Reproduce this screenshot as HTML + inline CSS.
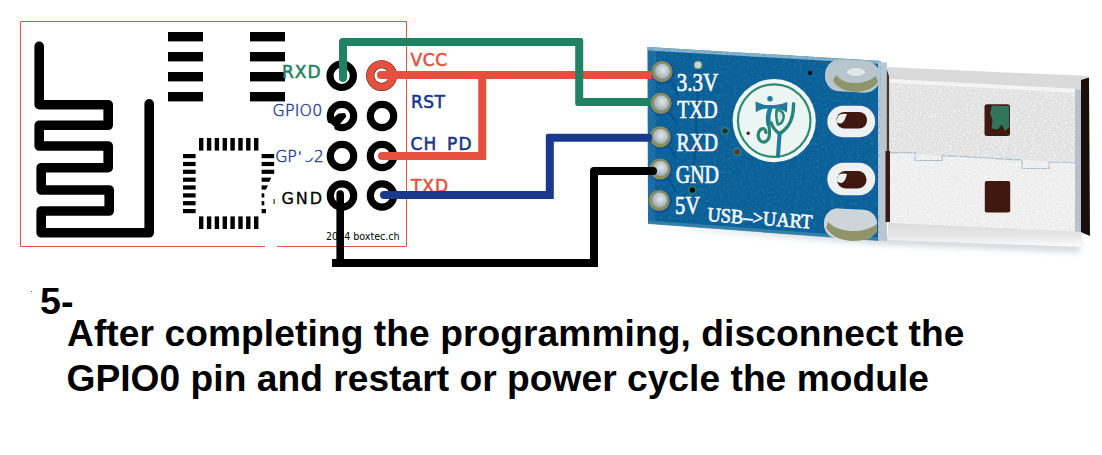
<!DOCTYPE html>
<html lang="en">
<head>
<meta charset="utf-8">
<title>ESP8266 - USB UART wiring, step 5</title>
<style>
html,body{margin:0;padding:0;background:#fff;}
body{width:1102px;height:455px;overflow:hidden;position:relative;font-family:"Liberation Sans",sans-serif;}
svg{position:absolute;left:0;top:0;display:block;}
.lbl{font-family:"DejaVu Sans","Liberation Sans",sans-serif;}
.silk{font-family:"Liberation Serif",serif;fill:#f4f8fa;stroke:#f4f8fa;stroke-width:0.7px;}
.cap{font-family:"Liberation Sans",sans-serif;font-weight:bold;fill:#000;}
</style>
</head>
<body>
<svg width="1102" height="455" viewBox="0 0 1102 455">
<defs>
  <linearGradient id="usbTop" x1="0" y1="0" x2="0" y2="1">
    <stop offset="0" stop-color="#dcdcdc"/><stop offset="1" stop-color="#d6d6d6"/>
  </linearGradient>
  <linearGradient id="usbBot" x1="0" y1="0" x2="0.04" y2="1">
    <stop offset="0" stop-color="#dcdcdc"/><stop offset="0.55" stop-color="#e6e6e6"/><stop offset="1" stop-color="#fbfbfb"/>
  </linearGradient>
  <radialGradient id="padG" cx="0.55" cy="0.42" r="0.6">
    <stop offset="0" stop-color="#e4e7e7"/><stop offset="0.45" stop-color="#c4cdd2"/><stop offset="0.8" stop-color="#a6b4c0"/><stop offset="1" stop-color="#93a08e"/>
  </radialGradient>
  <filter id="grainW" x="0" y="0" width="100%" height="100%" color-interpolation-filters="sRGB">
    <feTurbulence type="fractalNoise" baseFrequency="0.55" numOctaves="2" seed="7"/>
    <feColorMatrix type="matrix" values="0 0 0 0 1  0 0 0 0 1  0 0 0 0 1  3.2 0 0 0 -1.55"/>
  </filter>
  <filter id="grainB" x="0" y="0" width="100%" height="100%" color-interpolation-filters="sRGB">
    <feTurbulence type="fractalNoise" baseFrequency="0.35" numOctaves="2" seed="11"/>
    <feColorMatrix type="matrix" values="0 0 0 0 0.16  0 0 0 0 0.52  0 0 0 0 0.72  2.6 0 0 0 -1.3"/>
  </filter>
  <clipPath id="plugClip"><path d="M890,84 L1075,93 L1075,231.5 L890,223 Z"/></clipPath>
  <clipPath id="pcbClip"><path d="M647.5,47 L881,61 L879,240.5 L648,223.5 Z"/></clipPath>
  <filter id="soft" x="-5%" y="-5%" width="110%" height="110%"><feGaussianBlur stdDeviation="0.6"/></filter>
  <filter id="blur3" x="-10%" y="-50%" width="120%" height="200%"><feGaussianBlur stdDeviation="3"/></filter>
</defs>
<rect x="0" y="0" width="1102" height="455" fill="#ffffff"/>

<!-- ESP-01 module outline -->
<g id="esp01">
  <path d="M265,246.5 H20.5 V21.5 H406.5 V246.5 H277" fill="none" stroke="#e5503f" stroke-width="1"/>
  <!-- pcb antenna -->
  <path d="M39.2,46.4 V104.7 H108.2 V125.3 H39.2 V146 H108.2 V167.7 H41.2 V190 H109.2 V211 H41.2 V232.8 H149.2 V103.8" fill="none" stroke="#000" stroke-width="9.6" stroke-linecap="round" stroke-linejoin="round"/>
  <!-- smd pads -->
  <g fill="#000">
    <rect x="168" y="32" width="35" height="9.4"/><rect x="168" y="52" width="35" height="9.4"/><rect x="168" y="72" width="35" height="9.4"/><rect x="168" y="92" width="35" height="9.4"/>
    <rect x="250" y="32" width="35" height="9.4"/><rect x="250" y="52" width="35" height="9.4"/><rect x="250" y="72" width="35" height="9.4"/><rect x="250" y="92" width="35" height="9.4"/>
  </g>
  <!-- qfn chip pads -->
  <g fill="#000" id="qfn">
    <rect x="199" y="138" width="4.4" height="12.6"/><rect x="206.9" y="138" width="4.4" height="12.6"/><rect x="214.7" y="138" width="4.4" height="12.6"/><rect x="222.6" y="138" width="4.4" height="12.6"/><rect x="230.4" y="138" width="4.4" height="12.6"/><rect x="238.3" y="138" width="4.4" height="12.6"/><rect x="246.1" y="138" width="4.4" height="12.6"/><rect x="254" y="138" width="4.4" height="12.6"/>
    <rect x="199" y="216.4" width="4.4" height="12.6"/><rect x="206.9" y="216.4" width="4.4" height="12.6"/><rect x="214.7" y="216.4" width="4.4" height="12.6"/><rect x="222.6" y="216.4" width="4.4" height="12.6"/><rect x="230.4" y="216.4" width="4.4" height="12.6"/><rect x="238.3" y="216.4" width="4.4" height="12.6"/><rect x="246.1" y="216.4" width="4.4" height="12.6"/><rect x="254" y="216.4" width="4.4" height="12.6"/>
    <rect x="183" y="154" width="12.6" height="4.2"/><rect x="183" y="161.9" width="12.6" height="4.2"/><rect x="183" y="169.7" width="12.6" height="4.2"/><rect x="183" y="177.6" width="12.6" height="4.2"/><rect x="183" y="185.4" width="12.6" height="4.2"/><rect x="183" y="193.3" width="12.6" height="4.2"/><rect x="183" y="201.1" width="12.6" height="4.2"/><rect x="183" y="209" width="12.6" height="4.2"/>
    <rect x="261.6" y="154" width="12.6" height="4.2"/><rect x="261.6" y="161.9" width="12.6" height="4.2"/><rect x="261.6" y="169.7" width="12.6" height="4.2"/><rect x="261.6" y="177.6" width="12.6" height="4.2"/><rect x="261.6" y="185.4" width="12.6" height="4.2"/><rect x="261.6" y="193.3" width="12.6" height="4.2"/><rect x="261.6" y="201.1" width="12.6" height="4.2"/><rect x="261.6" y="209" width="12.6" height="4.2"/>
  </g>
  <!-- labels left -->
  <text class="lbl" x="282" y="77.9" font-size="17" fill="#1f8363" stroke="#1f8363" stroke-width="0.55" textLength="38.6" lengthAdjust="spacing">RXD</text>
  <text class="lbl" x="272.6" y="116" font-size="15.8" fill="#1f3f90" stroke="#1f3f90" stroke-width="0.45" textLength="49.6" lengthAdjust="spacing" style="font-family:'DejaVu Sans Light','DejaVu Sans',sans-serif">GPIO0</text>
  <text class="lbl" x="275.2" y="162" font-size="15.8" fill="#1f3f90" stroke="#1f3f90" stroke-width="0.45" textLength="48.6" lengthAdjust="spacing" style="font-family:'DejaVu Sans Light','DejaVu Sans',sans-serif">GPIO2</text>
  <text class="lbl" x="281.5" y="203.5" font-size="16" fill="#000" stroke="#000" stroke-width="0.3" textLength="40.5" lengthAdjust="spacing">GND</text>
  <text class="lbl" x="326" y="240" font-size="9.6" fill="#000" textLength="73.6" lengthAdjust="spacing">2014 boxtec.ch</text>
  <!-- white erasures from the original bitmap edit -->
  <g fill="#fff">
    <path d="M272,176 L265.8,190 L264.3,192 L264.3,208.6 L266,208.6 L266,215 L277,215 L277,176 Z"/>
    <rect x="297.6" y="146" width="8" height="18"/>
    <path d="M305,146 H315 V156 L311,158.5 L305,157 Z"/>
  </g>
  <rect x="299.2" y="151.2" width="1.4" height="3.6" fill="#1f3f90"/>
  <rect x="273.6" y="199" width="1" height="5" fill="#000"/>
  <!-- header pins -->
  <g fill="none" stroke="#000" stroke-width="7.2">
    <circle cx="341.7" cy="75.8" r="11.7"/>
    <circle cx="342" cy="116" r="11.7"/><circle cx="382" cy="116" r="11.7"/>
    <circle cx="342" cy="156" r="11.7"/><circle cx="382" cy="156" r="11.7"/>
    <circle cx="342" cy="195.5" r="11.7"/><circle cx="382" cy="195.5" r="11.7"/>
  </g>
  <circle cx="381.6" cy="75.6" r="11.4" fill="none" stroke="#2a1a18" stroke-width="8.1"/>
  <circle cx="381.6" cy="75.6" r="11.4" fill="none" stroke="#e5503f" stroke-width="7.2"/>
  <path d="M338.6,113.5 L344.8,113.0 Q346.4,114.6 346.0,116.8 L336,129 L328,121.4 Z" fill="#000"/>
  <path d="M326.2,122.2 L330.8,123.6 L334.1,126.5 L335,130.6 L329.9,132 L325,126.2 Z" fill="#fff"/>
  <!-- labels right -->
  <text class="lbl" x="410.5" y="66" font-size="17" fill="#e5503f" stroke="#e5503f" stroke-width="0.55" textLength="36.5" lengthAdjust="spacing">VCC</text>
  <text class="lbl" x="411" y="108.4" font-size="17" fill="#17378b" stroke="#17378b" stroke-width="0.55" textLength="34" lengthAdjust="spacing">RST</text>
  <text class="lbl" x="410.5" y="150.4" font-size="17" fill="#17378b" stroke="#17378b" stroke-width="0.55" textLength="61" lengthAdjust="spacing">CH_PD</text>
  <text class="lbl" x="411" y="191.8" font-size="17" fill="#e5503f" stroke="#e5503f" stroke-width="0.55" textLength="37" lengthAdjust="spacing">TXD</text>
</g>

<!-- USB to UART adapter -->
<g id="usbuart">
  <!-- soft shadow under board and plug -->
  <path d="M650,226 L878,244 L1080,252 L1080,244 L878,236 Z" fill="#cdd5da" filter="url(#blur3)"/>
  <!-- pcb -->
  <path d="M647.5,47 L881,61 L879,240.5 L648,223.5 Z" fill="#0b6098"/>
  <path d="M647.5,47 L881,61 L881,64 L647.5,50.5 Z" fill="#a9c6d6" opacity="0.8"/>
  <path d="M648,220.5 L879,237.5 L879,241 L648,224 Z" fill="#3f86ad" opacity="0.8"/>
  <path d="M878,62 L887,62.6 L887,241 L878,240.5 Z" fill="#b9c7d3"/>
  <path d="M886.8,70 L889.2,70.3 L889.2,151 L886.8,151 Z" fill="#4a3a24"/>
  <path d="M885.5,151 L890,151 L890,222 L885.5,222 Z" fill="#3a1a14"/>
  <rect x="647" y="46" width="236" height="196" filter="url(#grainB)" clip-path="url(#pcbClip)" opacity="0.55"/>
  <!-- copper traces -->
  <g fill="none" stroke="#0a4f8a" stroke-width="2.2" opacity="0.85">
    <path d="M698,69 L697,120 L692.4,186"/>
    <path d="M671,80 L678,96"/><path d="M670,113 L677,124"/><path d="M669,146 L676,158"/><path d="M668,178 L676,192"/>
  </g>
  <path d="M648,50 L656,51 L655,222 L648,221.5 Z" fill="#2a7fb4" opacity="0.45"/>
  <!-- header pads -->
  <g>
    <circle cx="662.8" cy="72.39999999999999" r="11.6" fill="#114a93" opacity="0.8"/><circle cx="662" cy="71.6" r="10.6" fill="#868d62"/><circle cx="662.3" cy="71.3" r="7.6" fill="url(#padG)"/>
    <circle cx="661.8" cy="104.1" r="11.6" fill="#114a93" opacity="0.8"/><circle cx="661" cy="103.3" r="10.6" fill="#868d62"/><circle cx="661.3" cy="103.0" r="7.6" fill="url(#padG)"/>
    <circle cx="661.0" cy="137.60000000000002" r="11.6" fill="#114a93" opacity="0.8"/><circle cx="660.2" cy="136.8" r="10.6" fill="#868d62"/><circle cx="660.5" cy="136.5" r="7.6" fill="url(#padG)"/>
    <circle cx="660.8" cy="169.8" r="11.6" fill="#114a93" opacity="0.8"/><circle cx="660" cy="169" r="10.6" fill="#868d62"/><circle cx="660.3" cy="168.7" r="7.6" fill="url(#padG)"/>
    <circle cx="660.0" cy="201.3" r="11.6" fill="#114a93" opacity="0.8"/><circle cx="659.2" cy="200.5" r="10.6" fill="#868d62"/><circle cx="659.5" cy="200.2" r="7.6" fill="url(#padG)"/>
  </g>
  <!-- vias -->
  <circle cx="698" cy="65" r="4" fill="#c9d6d2" stroke="#6f8f6a" stroke-width="1"/>
  <circle cx="810" cy="73" r="2.2" fill="#0a1018"/>
  <circle cx="725" cy="131" r="3.4" fill="#1a3a2a" stroke="#2d7f8a" stroke-width="1.4"/>
  <circle cx="737" cy="152" r="3.6" fill="#5a3a22" stroke="#2d7f8a" stroke-width="1.6"/>
  <circle cx="692.4" cy="190" r="3.6" fill="#05080a" stroke="#2d7f6a" stroke-width="1.6"/>
  <!-- silkscreen text -->
  <text class="silk" x="676.8" y="91.2" font-size="24.5" textLength="41.5" lengthAdjust="spacingAndGlyphs">3.3V</text>
  <text class="silk" x="677.3" y="117.8" font-size="24.5" textLength="40.3" lengthAdjust="spacingAndGlyphs">TXD</text>
  <text class="silk" x="676.5" y="150.6" font-size="25.5" textLength="41.6" lengthAdjust="spacingAndGlyphs">RXD</text>
  <text class="silk" x="675.8" y="182.5" font-size="25.5" textLength="43.2" lengthAdjust="spacingAndGlyphs">GND</text>
  <text class="silk" x="675" y="214.3" font-size="25.5" textLength="25" lengthAdjust="spacingAndGlyphs">5V</text>
  <text class="silk" x="707" y="221" font-size="20" textLength="105" lengthAdjust="spacingAndGlyphs" transform="rotate(4.2 707 221)">USB–&gt;UART</text>
  <!-- round logo -->
  <circle cx="774.2" cy="120.6" r="41.6" fill="#f1f7f6"/>
  <circle cx="774.2" cy="120.6" r="36.3" fill="#ebf5f2" stroke="#2f8a72" stroke-width="2.2"/>
  <path d="M755.5,101.3 L755.8,112.2 Q763,107.5 770.5,108.6 Q779,107.5 787,112.4 L787.4,102 Q779,105.8 770.5,105 Q763,105.8 755.5,101.3 Z" fill="#1f7a9c"/>
  <circle cx="770" cy="98.8" r="2.7" fill="#1f7a9c"/>
  <g fill="none" stroke-linecap="round" stroke-linejoin="round">
    <path d="M770.3,108 Q767.2,116 768.6,124" stroke="#1f7a9c" stroke-width="4.6"/>
    <path d="M768.6,124 Q770.6,134 768.4,139 Q764,144.6 759.6,140 Q756.2,134 760.6,129.4 Q765,127 766,132.4" stroke="#278478" stroke-width="3.2"/>
    <path d="M793.6,103.8 Q793.6,118 788,126 Q783.6,131.6 779.6,133.6 Q774,130.4 771.2,123" stroke="#278478" stroke-width="3.4"/>
    <path d="M776.6,109.6 Q784.6,111 783.6,118 Q782.4,124 777.8,124.6 Q775.4,117 776.6,109.6 Z" stroke="#278478" stroke-width="2.4" fill="#d5e9e5"/>
    <path d="M779.6,133.6 L778,156" stroke="#1f7a9c" stroke-width="4"/>
  </g>
  <circle cx="748.2" cy="133.2" r="1.7" fill="#4a2a1a"/>
  <!-- corner pads -->
  <rect x="825" y="60" width="55" height="32" rx="15" fill="#b7c6cd" transform="rotate(3 852 76)"/>
  <path d="M833,80 Q838,91 856,92 Q872,91 878,82 L876,76 Q866,84 852,83 Q842,82 836,75 Z" fill="#8f9568"/>
  <ellipse cx="856" cy="72" rx="9" ry="4" fill="#e1e6e6"/>
  <rect x="824" y="209" width="53" height="30" rx="14" fill="#cdd5d8" transform="rotate(3 850 224)"/>
  <path d="M826,228 Q834,240 852,241 Q870,241 877,232 L877,224 Q866,232 850,231 Q836,230 828,222 Z" fill="#8f9568"/>
  <!-- slotted pads -->
  <rect x="826.5" y="105" width="49.5" height="33" rx="16.5" fill="#eef1f1" stroke="#1d5fa0" stroke-width="1.6"/>
  <rect x="836.5" y="112" width="30.5" height="16.5" rx="8" fill="#40180f"/>
  <path d="M836,122 Q842,126 845,119 L847,114 Q841,113 838,116 Z" fill="#eef1f1"/>
  <rect x="826.5" y="162" width="49.5" height="34" rx="17" fill="#eef1f1" stroke="#1d5fa0" stroke-width="1.6"/>
  <rect x="837" y="171" width="29.5" height="17.5" rx="8.5" fill="#40180f"/>
  <path d="M836.5,181 Q842,186 845.5,179 L847,174 Q841,172.5 838,175.5 Z" fill="#eef1f1"/>
  <!-- usb plug shell -->
  <path d="M890,70 L1088,77 L1090,235 L890,225 Z" fill="#e1e1e1"/>
  <path d="M890,153 L1081,163 L1081,232 L890,223 Z" fill="#ededed"/>
  <path d="M886,67 L1088,76 L1080,89 L890,79 Z" fill="#dadada"/>
  <path d="M890,79 L1080,89 L1080,93 L890,83 Z" fill="#f4f4f4"/>
  <path d="M890,152.6 H915 V160.5 H942 V155.5 L1022,160 V168.5 H1049 V162 L1081,163" fill="none" stroke="#a9bccb" stroke-width="1.2"/>
  <path d="M888,223 L1081,232 L1084,247 L888,240 Z" fill="url(#usbBot)"/>
  <path d="M1075,89 L1081,89.5 L1081,232 L1075,231.5 Z" fill="#b4c2cf"/>
  <path d="M1081,80 L1089,77.5 L1090,236 L1081,232 Z" fill="#1a0f0c"/>
  <rect x="888" y="66" width="200" height="172" filter="url(#grainW)" clip-path="url(#plugClip)" opacity="0.8"/>
  <rect x="984.5" y="104.3" width="25.5" height="31.6" rx="2.5" fill="#40180f"/>
  <path d="M992,105.6 L1009,106 L1009.4,127 L1005,131 L1002,124.5 L997.5,129.5 L991.5,128.5 L992.5,120 L990,113 Z" fill="#2a8c6e" opacity="0.8"/>
  <rect x="984.8" y="181" width="25.4" height="31.6" rx="2" fill="#40180f"/>
</g>

<!-- jumper wires -->
<g id="wires" fill="none" stroke-width="8">
  <path d="M381,75 H651.6" stroke="#e5503f"/>
  <circle cx="381" cy="75" r="4" fill="#e5503f" stroke="none"/>
  <path d="M382,156 H482.2 V73" stroke="#e5503f" stroke-linejoin="miter"/>
  <circle cx="382" cy="156" r="4" fill="#e5503f" stroke="none"/>
  <path d="M339,78 V42 Q339,38 343,38 H581 Q583.2,38 583.2,40.2 V98 H650 Q652,102 650,106 H577.4 Q575.2,106 575.2,103.8 V46 H347 V78 A4,4 0 0 1 339,78 Z" fill="#1f8363" stroke="none"/>
  <path d="M384,191 H545.8 V136 Q545.8,133.8 548,133.8 H651 Q653,137.8 651,141.8 H553.8 V199 H384 A4,4 0 0 1 384,191 Z" fill="#1a388c" stroke="none"/>
  <path d="M340.2,194 V263" stroke="#000" stroke-width="7.6" stroke-linecap="round"/>
  <path d="M332,263 H594" stroke="#000"/>
  <path d="M594,263 V171 H653" stroke="#000" stroke-linecap="round" stroke-linejoin="round"/>
  <rect x="590" y="259" width="8" height="8" fill="#000" stroke="none"/>
</g>

<!-- caption -->
<rect x="31" y="291" width="1" height="1" fill="#555"/>
<text class="cap" x="40" y="314.4" font-size="37.6">5-</text>
<text class="cap" x="67" y="345.6" font-size="37.15" textLength="897.4" lengthAdjust="spacing">After completing the programming, disconnect the</text>
<text class="cap" x="66.5" y="390.6" font-size="37.15" textLength="862.4" lengthAdjust="spacing">GPIO0 pin and restart or power cycle the module</text>
</svg>
</body>
</html>
